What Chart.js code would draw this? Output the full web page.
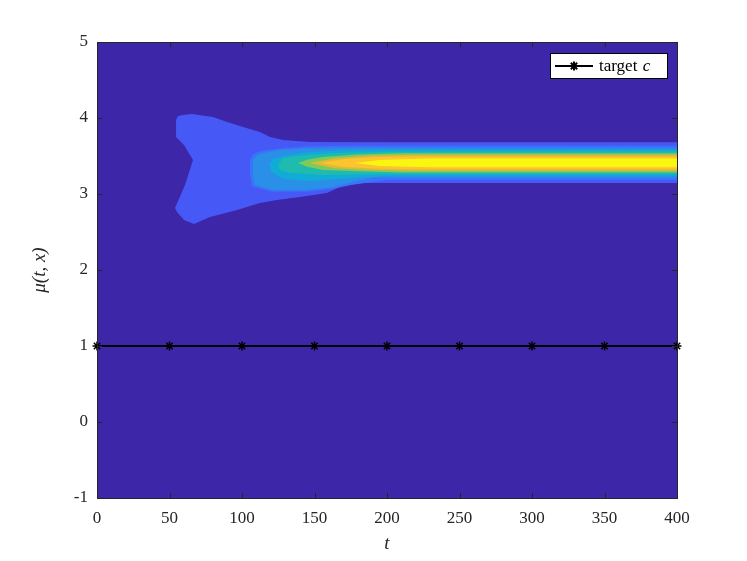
<!DOCTYPE html>
<html>
<head>
<meta charset="utf-8">
<script src="https://cdn.jsdelivr.net/npm/chart.js@4.4.1/dist/chart.umd.min.js"></script>
<style>
  html, body { margin: 0; padding: 0; background: #ffffff; }
  #wrap { width: 747px; height: 561px; }
</style>
</head>
<body>
<div id="wrap"><canvas id="c" width="747" height="561"></canvas></div>
<script>
// ---- data ----
const xTicks = [0, 50, 100, 150, 200, 250, 300, 350, 400];
const yTicks = [-1, 0, 1, 2, 3, 4, 5];

// target c series
const targetT = [0, 50, 100, 150, 200, 250, 300, 350, 400];
const targetC = [1, 1, 1, 1, 1, 1, 1, 1, 1];

// filled contour regions (t, mu) — outer to inner level
const background = [[0, -1], [400, -1], [400, 5], [0, 5]];
const level1 = [[54.5, 3.974], [55.9, 4.026], [59.3, 4.039], [65.5, 4.053], [80.0, 4.013], [89.7, 3.947],
  [100.7, 3.882], [112.4, 3.816], [119.3, 3.75], [128.3, 3.711], [146.9, 3.684], [200, 3.68], [400, 3.68],
  [400, 3.145], [181.4, 3.145], [167.6, 3.092], [158.6, 3.013], [140, 2.961], [124.1, 2.921], [112.4, 2.882],
  [96.6, 2.789], [77.9, 2.697], [66.9, 2.605], [60, 2.658], [55.2, 2.763], [53.8, 2.816], [60.7, 3.118],
  [66.2, 3.447], [60, 3.645], [54.5, 3.75]];
const level2 = [[105.5, 3.45], [107.5, 3.52], [113, 3.565], [126, 3.60], [145, 3.625], [168, 3.635], [200, 3.636],
  [400, 3.636], [400, 3.184], [200, 3.184], [175, 3.12], [163, 3.07], [145, 3.03], [121, 3.03], [107, 3.10], [105.5, 3.25]];
const level3 = [[107.6, 3.447], [109.7, 3.5], [114.5, 3.539], [126.2, 3.579], [144.8, 3.6], [167.6, 3.606], [400, 3.606],
  [400, 3.214], [190, 3.214], [175, 3.15], [162.8, 3.092], [144.8, 3.053], [121.4, 3.053], [109, 3.118], [107.6, 3.25]];
const level4 = [[119, 3.39], [121, 3.45], [128, 3.5], [145, 3.55], [170, 3.575], [200, 3.581], [400, 3.581],
  [400, 3.239], [200, 3.239], [170, 3.2], [145, 3.17], [128, 3.2], [120, 3.3]];
const level5 = [[124.8, 3.382], [128.3, 3.474], [144.8, 3.513], [167.6, 3.539], [200, 3.556], [400, 3.558],
  [400, 3.262], [200, 3.262], [155.9, 3.25], [133.1, 3.276], [126, 3.32]];
const level6 = [[138.6, 3.408], [145, 3.45], [155.9, 3.487], [180, 3.52], [210, 3.537], [400, 3.537],
  [400, 3.283], [210, 3.283], [180, 3.3], [155.9, 3.316], [145, 3.36]];
const level7 = [[146.9, 3.408], [164, 3.47], [190, 3.505], [215, 3.516], [400, 3.516],
  [400, 3.304], [215, 3.304], [190, 3.315], [164, 3.34]];
const level8 = [[153.8, 3.408], [171, 3.46], [195, 3.488], [220, 3.494], [400, 3.494],
  [400, 3.326], [220, 3.326], [195, 3.332], [171, 3.355]];
const level9 = [[178, 3.408], [195, 3.447], [230, 3.468], [400, 3.468],
  [400, 3.352], [230, 3.352], [195, 3.368]];

const regions = [background, level1, level2, level3, level4, level5, level6, level7, level8, level9];
const regionColors = ['#3e26a8', '#4658f5', '#3a74f8', '#2a8fe7', '#10acd6', '#20bbaf', '#80cb58', '#e2b935', '#fcc52f', '#f9f70f'];

// ---- chart ----
const SERIF = '"Liberation Serif", "DejaVu Serif", serif';
const AXIS = '#262626';

const regionSets = regions.map((poly, i) => ({
  label: 'region' + i,
  data: poly.map(p => ({ x: p[0], y: p[1] })),
  showLine: true,
  borderWidth: 0,
  borderColor: regionColors[i],
  backgroundColor: regionColors[i],
  fill: 'shape',
  pointRadius: 0,
  pointHoverRadius: 0,
  tension: 0,
  order: 100 - i
}));

const targetSet = {
  label: 'target c',
  data: targetT.map((t, i) => ({ x: t, y: targetC[i] })),
  showLine: true,
  borderColor: '#000000',
  borderWidth: 2,
  backgroundColor: '#000000',
  pointStyle: 'star',
  pointRadius: 4.5,
  pointBorderWidth: 1.5,
  pointBorderColor: '#000000',
  fill: false,
  clip: false,
  order: 0
};

const innerTicks = {
  id: 'innerTicks',
  afterDatasetsDraw(chart) {
    const { ctx, chartArea: a, scales: { x, y } } = chart;
    ctx.save();
    ctx.strokeStyle = AXIS;
    ctx.lineWidth = 1;
    ctx.beginPath();
    const L = 5;
    xTicks.forEach(v => {
      const px = Math.round(x.getPixelForValue(v)) + 0.5;
      ctx.moveTo(px, a.bottom); ctx.lineTo(px, a.bottom - L);
      ctx.moveTo(px, a.top); ctx.lineTo(px, a.top + L);
    });
    yTicks.forEach(v => {
      const py = Math.round(y.getPixelForValue(v)) + 0.5;
      ctx.moveTo(a.left, py); ctx.lineTo(a.left + L, py);
      ctx.moveTo(a.right, py); ctx.lineTo(a.right - L, py);
    });
    ctx.stroke();
    ctx.strokeRect(Math.round(a.left) + 0.5, Math.round(a.top) + 0.5, Math.round(a.right - a.left), Math.round(a.bottom - a.top));
    ctx.restore();
  }
};

const boxLegend = {
  id: 'boxLegend',
  afterDraw(chart) {
    const { ctx, chartArea: a } = chart;
    const right = a.right - 9, top = a.top + 11, w = 118, h = 26;
    const left = right - w;
    ctx.save();
    ctx.fillStyle = '#ffffff';
    ctx.fillRect(left, top, w, h);
    ctx.strokeStyle = '#000000';
    ctx.lineWidth = 1;
    ctx.strokeRect(left + 0.5, top + 0.5, w - 1, h - 1);
    const cy = top + h / 2;
    ctx.beginPath();
    ctx.lineWidth = 2;
    ctx.moveTo(left + 5, cy); ctx.lineTo(left + 43, cy);
    ctx.stroke();
    Chart.helpers.drawPoint(ctx, { pointStyle: 'star', radius: 4.5, borderWidth: 1.5, rotation: 0 }, left + 24, cy);
    ctx.fillStyle = '#000000';
    ctx.textBaseline = 'middle';
    ctx.font = '17px ' + SERIF;
    ctx.fillText('target', left + 49, cy + 1);
    const tw = ctx.measureText('target ').width;
    ctx.font = 'italic 17px ' + SERIF;
    ctx.fillText('c', left + 49 + tw + 1, cy + 1);
    ctx.restore();
  }
};

new Chart(document.getElementById('c'), {
  type: 'scatter',
  data: { datasets: [targetSet, ...regionSets] },
  options: {
    responsive: false,
    animation: false,
    events: [],
    layout: { padding: { left: 0, right: 70, top: 42, bottom: 0 } },
    plugins: { legend: { display: false }, tooltip: { enabled: false } },
    scales: {
      x: {
        type: 'linear', min: 0, max: 400,
        afterFit: s => { s.height = 63; },
        afterBuildTicks: s => { s.ticks = xTicks.map(v => ({ value: v })); },
        ticks: { font: { family: SERIF, size: 17 }, color: AXIS, padding: 10, maxRotation: 0 },
        grid: { display: false, drawTicks: false },
        border: { display: false },
        title: { display: true, text: 't', font: { family: SERIF, size: 19, style: 'italic' }, color: AXIS, padding: { top: 6, bottom: 6 } }
      },
      y: {
        type: 'linear', min: -1, max: 5,
        afterFit: s => { s.width = 97; },
        afterBuildTicks: s => { s.ticks = yTicks.map(v => ({ value: v })); },
        ticks: { font: { family: SERIF, size: 17 }, color: AXIS, padding: 9 },
        grid: { display: false, drawTicks: false },
        border: { display: false },
        title: { display: true, text: 'μ(t, x)', font: { family: SERIF, size: 19, style: 'italic' }, color: AXIS, padding: { top: 29, bottom: 29 } }
      }
    }
  },
  plugins: [innerTicks, boxLegend]
});
</script>
</body>
</html>
